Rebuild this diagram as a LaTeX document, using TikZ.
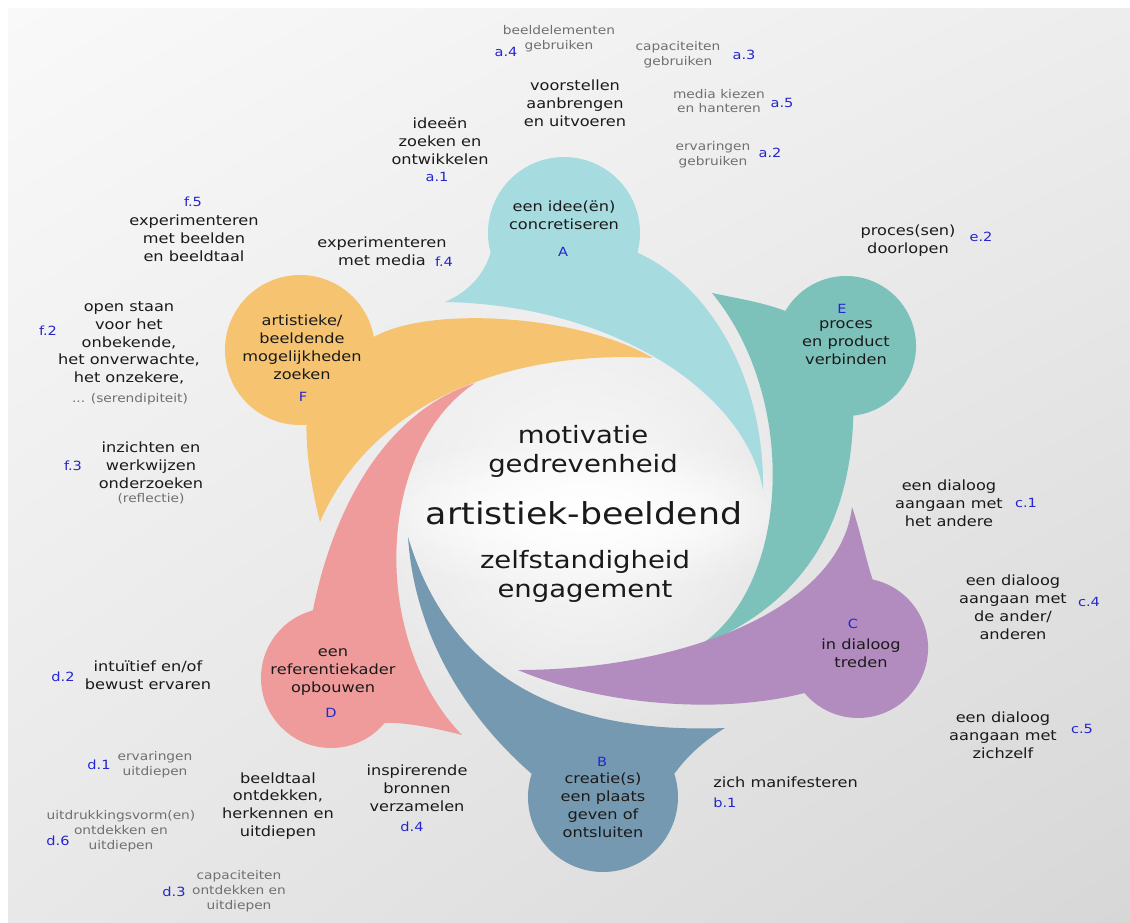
\documentclass[tikz,border=0pt]{standalone}
\usepackage{fontspec}
\setmainfont{DejaVu Sans}[FakeStretch=1.15]
\usetikzlibrary{fadings,shadings}

\definecolor{bgtl}{HTML}{F9F9F9}
\definecolor{bgtr}{HTML}{EDEDED}
\definecolor{bgbl}{HTML}{E8E8E8}
\definecolor{bgbr}{HTML}{D7D7D7}
\definecolor{shapeA}{HTML}{A6DBE0}
\definecolor{shapeB}{HTML}{7499B1}
\definecolor{shapeC}{HTML}{B28BBF}
\definecolor{shapeD}{HTML}{F09B9B}
\definecolor{shapeE}{HTML}{7CC2BA}
\definecolor{shapeF}{HTML}{F6C470}
\definecolor{txtblack}{HTML}{1A1A1A}
\definecolor{txtgray}{HTML}{707070}
\definecolor{codeblue}{HTML}{2626CF}

\tikzfading[name=glow, inner color=transparent!0, outer color=transparent!100]

\begin{document}
\begin{tikzpicture}[x=0.025cm, y=0.025cm,
    lbl/.style={align=center, inner sep=0pt, text=txtblack, font=\fontsize{10}{12.7}\selectfont},
    minor/.style={align=center, inner sep=0pt, text=txtgray, font=\fontsize{8.5}{10.6}\selectfont},
    code/.style={inner sep=0pt, text=codeblue, font=\fontsize{9}{11}\selectfont},
    core/.style={align=center, inner sep=0pt, text=txtblack, font=\fontsize{17}{20.5}\selectfont}]

    % Background
    \useasboundingbox (0,0) rectangle (1130,-922);
    \fill[white] (0,0) rectangle (1130,-922);
    \shade[upper left=bgtl, upper right=bgtr, lower left=bgbl, lower right=bgbr] (8,-8) rectangle (1130,-922);
    \fill[white, opacity=0.8, path fading=glow] (585,-514) circle[radius=230];
    \fill[white, path fading=glow] (585,-514) ellipse[x radius=240, y radius=80];
    \fill[white, opacity=0.7, path fading=glow] (585,-514) ellipse[x radius=200, y radius=60];

    % Shapes
    \fill[shapeA] (445,-302) .. controls (468,-292) and (484,-275) .. (490.6,-252.7)
        arc[start angle=195, end angle=-15, radius=76]
        .. controls (710,-285) and (765,-380) .. (763,-490)
        .. controls (745,-390) and (610,-305) .. (445,-302) -- cycle;
    \fill[shapeE] (712,-293) .. controls (735,-298) and (762,-302) .. (785.4,-311)
        arc[start angle=150, end angle=-84, radius=70]
        .. controls (850,-540) and (790,-610) .. (697,-647)
        .. controls (790,-590) and (800,-400) .. (712,-293) -- cycle;
    \fill[shapeC] (852,-507) .. controls (860,-530) and (866,-560) .. (872.6,-579.5)
        arc[start angle=78, end angle=-140, radius=70]
        .. controls (720,-715) and (600,-705) .. (518,-670)
        .. controls (680,-670) and (840,-610) .. (852,-507) -- cycle;
    \fill[shapeB] (725,-728) .. controls (705,-740) and (688,-755) .. (674.3,-773.8)
        arc[start angle=18, end angle=-198, radius=75]
        .. controls (470,-720) and (415,-640) .. (408,-537)
        .. controls (445,-660) and (540,-735) .. (725,-728) -- cycle;
    \fill[shapeD] (462,-735) .. controls (435,-728) and (405,-722) .. (384.6,-723)
        arc[start angle=-40, end angle=-255, radius=70]
        .. controls (335,-500) and (390,-410) .. (475,-383)
        .. controls (375,-450) and (370,-640) .. (462,-735) -- cycle;
    \fill[shapeF] (320,-522) .. controls (312,-490) and (306,-455) .. (306.5,-424.7)
        arc[start angle=-85, end angle=-350, radius=75]
        .. controls (430,-305) and (580,-315) .. (653,-358)
        .. controls (520,-350) and (375,-395) .. (320,-522) -- cycle;

    % Labels round A
    \node[minor] (a4txt) at (559,-39) {beeldelementen\\gebruiken};
    \node[code] (a4) at (506,-52) {a.4};
    \node[minor] (a3txt) at (678,-55) {capaciteiten\\gebruiken};
    \node[code] (a3) at (744,-55) {a.3};
    \node[lbl] (a0txt) at (575,-103) {voorstellen\\aanbrengen\\en uitvoeren};
    \node[minor] (a5txt) at (719,-101) {media kiezen\\en hanteren};
    \node[code] (a5) at (782,-103) {a.5};
    \node[lbl] (a1txt) at (440,-141) {ideeën\\zoeken en\\ontwikkelen};
    \node[code] (a1) at (437,-177) {a.1};
    \node[minor] (a2txt) at (713,-155) {ervaringen\\gebruiken};
    \node[code] (a2) at (770,-153) {a.2};
    \node[lbl] (ideaA) at (564,-215) {een idee(ën)\\concretiseren};
    \node[code] (A) at (563,-252) {A};

    % Labels round F
    \node[code] (f5) at (193,-202) {f.5};
    \node[lbl] (f5txt) at (194,-238) {experimenteren\\met beelden\\en beeldtaal};
    \node[lbl] (f4txt) at (382,-251) {experimenteren\\met media};
    \node[code] (f4) at (444,-262) {f.4};
    \node[lbl] (f2txt) at (129,-343) {open staan\\voor het\\onbekende,\\het onverwachte,\\het onzekere,};
    \node[minor] (f2note) at (130,-399) {... (serendipiteit)};
    \node[code] (f2) at (48,-331) {f.2};
    \node[lbl] (f3txt) at (151,-465) {inzichten en\\werkwijzen\\onderzoeken};
    \node[minor] (f3note) at (151,-499) {(reflectie)};
    \node[code] (f3) at (73,-466) {f.3};
    \node[lbl] (searchF) at (302,-347) {artistieke/\\beeldende\\mogelijkheden\\zoeken};
    \node[code] (F) at (303,-397) {F};

    % Labels round E
    \node[lbl] (e2txt) at (908,-241) {proces(sen)\\doorlopen};
    \node[code] (e2) at (981,-237) {e.2};
    \node[code] (E) at (842,-309) {E};
    \node[lbl] (linkE) at (846,-343) {proces\\en product\\verbinden};

    % Labels round C
    \node[lbl] (c1txt) at (949,-503) {een dialoog\\aangaan met\\het andere};
    \node[code] (c1) at (1026,-503) {c.1};
    \node[lbl] (c4txt) at (1013,-607) {een dialoog\\aangaan met\\de ander/\\anderen};
    \node[code] (c4) at (1089,-602) {c.4};
    \node[code] (C) at (853,-624) {C};
    \node[lbl] (dialogC) at (861,-653) {in dialoog\\treden};
    \node[lbl] (c5txt) at (1003,-735) {een dialoog\\aangaan met\\zichzelf};
    \node[code] (c5) at (1082,-729) {c.5};

    % Labels round B
    \node[lbl, anchor=west] (b1txt) at (713,-782) {zich manifesteren};
    \node[code, anchor=west] (b1) at (713,-803) {b.1};
    \node[code] (B) at (602,-762) {B};
    \node[lbl] (placeB) at (603,-805) {creatie(s)\\een plaats\\geven of\\ontsluiten};

    % Labels round D
    \node[lbl] (d4txt) at (417,-788) {inspirerende\\bronnen\\verzamelen};
    \node[code] (d4) at (412,-827) {d.4};
    \node[lbl] (d2txt) at (148,-675) {intuïtief en/of\\bewust ervaren};
    \node[code] (d2) at (63,-677) {d.2};
    \node[lbl] (frameD) at (333,-672) {een\\referentiekader\\opbouwen};
    \node[code] (D) at (331,-713) {D};
    \node[minor] (d1txt) at (155,-765) {ervaringen\\uitdiepen};
    \node[code] (d1) at (99,-765) {d.1};
    \node[lbl] (d5txt) at (278,-806) {beeldtaal\\ontdekken,\\herkennen en\\uitdiepen};
    \node[minor] (d6txt) at (121,-831) {uitdrukkingsvorm(en)\\ontdekken en\\uitdiepen};
    \node[code] (d6) at (58,-841) {d.6};
    \node[minor] (d3txt) at (239,-891) {capaciteiten\\ontdekken en\\uitdiepen};
    \node[code] (d3) at (174,-892) {d.3};

    % Centre
    \node[core] (drive) at (583,-451) {motivatie\\gedrevenheid};
    \node[core, font=\fontsize{21.5}{24}\selectfont] (core) at (584,-513) {artistiek-beeldend};
    \node[core] (self) at (585,-576) {zelfstandigheid\\engagement};
\end{tikzpicture}
\end{document}
